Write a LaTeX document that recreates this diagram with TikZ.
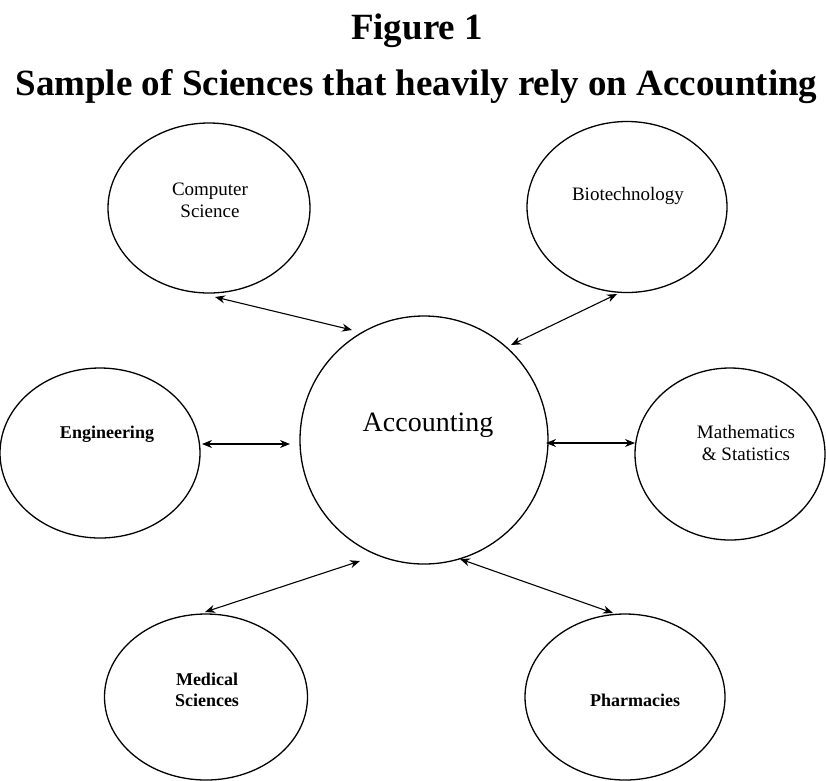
\documentclass[tikz,border=0pt]{standalone}
\usepackage{fontspec}
\setmainfont{Liberation Serif}
\usetikzlibrary{shapes.geometric,arrows.meta,calc}
\begin{document}
\begin{tikzpicture}[x=1pt,y=-1pt,
  heading/.style={font=\bfseries\fontsize{37}{40}\selectfont,anchor=base,inner sep=0pt},
  orb/.style={ellipse,draw=black,line width=1.3pt,inner sep=0pt},
  tag/.style={font=\fontsize{19}{22}\selectfont,align=center,inner sep=0pt},
  boldtag/.style={tag,font=\bfseries\fontsize{18}{21}\selectfont},
  link/.style={{Stealth[length=10pt,width=8pt]}-{Stealth[length=10pt,width=8pt]},line width=1.1pt}]
\useasboundingbox (0,0) rectangle (826,780);

% titles
\node[heading] (fig) at (417,39) {Figure 1};
\node[heading] (sub) at (416.5,95) {Sample of Sciences that heavily rely on Accounting};

% central circle
\node[circle,draw=black,line width=1.3pt,inner sep=0pt,minimum size=248pt] (acc) at (424,440) {};
\node[font=\fontsize{28}{30}\selectfont,inner sep=0pt] (acct) at ($(acc)+(4,-15)$) {Accounting};

% surrounding fields
\node[orb,minimum width=202pt,minimum height=170pt] (cs)   at (209,208) {};
\node[orb,minimum width=200pt,minimum height=171pt] (bio)  at (627,207) {};
\node[orb,minimum width=200pt,minimum height=170pt] (eng)  at (100,453) {};
\node[orb,minimum width=190pt,minimum height=172pt] (math) at (730,454) {};
\node[orb,minimum width=203pt,minimum height=166pt] (med)  at (206,697) {};
\node[orb,minimum width=200pt,minimum height=166pt] (pha)  at (625,697) {};

% field names
\node[tag]     (cst)   at ($(cs)+(1,-8)$)    {Computer\\Science};
\node[tag]     (biot)  at ($(bio)+(1,-11)$)  {Biotechnology};
\node[boldtag] (engt)  at ($(eng)+(7,-19)$)  {Engineering};
\node[tag]     (matht) at ($(math)+(16,-11)$) {Mathematics\\\& Statistics};
\node[boldtag] (medt)  at ($(med)+(1,-7)$)   {Medical\\Sciences};
\node[boldtag] (phat)  at ($(pha)+(10,3)$)   {Pharmacies};

% two-way links
\draw[link] ($(cs)+(6,89)$)    -- ($(acc)+(-72,-110)$);
\draw[link] ($(bio)+(-10,87)$) -- ($(acc)+(87,-95)$);
\draw[link] ($(eng)+(102,-9)$) -- ($(acc)+(-134,4)$);
\draw[link] ($(acc)+(122,3)$)  -- ($(math)+(-95,-11)$);
\draw[link] ($(acc)+(-64,121)$) -- ($(med)+(-1,-85)$);
\draw[link] ($(acc)+(36,119)$) -- ($(pha)+(-12,-84)$);
\end{tikzpicture}
\end{document}
